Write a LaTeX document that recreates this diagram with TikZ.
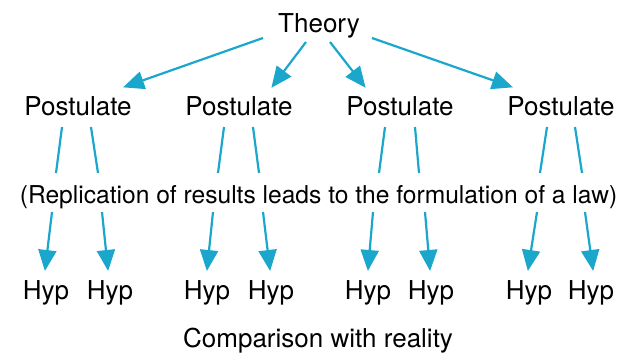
\documentclass[tikz,border=0pt]{standalone}
\usepackage{fontspec}
\setmainfont{TeX Gyre Heros}
\usetikzlibrary{arrows.meta}
\definecolor{lineblue}{HTML}{1BA6CC}
\tikzset{
  lbl/.style={anchor=base, inner sep=0pt, font=\fontsize{26}{30}\selectfont},
  conn/.style={draw=lineblue, line width=2.2pt},
  arr/.style={conn, -{Triangle[length=21pt,width=18pt]}, shorten >=-1pt}
}
\begin{document}
\begin{tikzpicture}[x=1pt,y=-1pt]
\useasboundingbox (0,0) rectangle (627,356);
% nodes
\node[lbl] (th) at (319,32) {Theory};
\node[lbl] (p1) at (78,115) {Postulate};
\node[lbl] (p2) at (239,115) {Postulate};
\node[lbl] (p3) at (400,115) {Postulate};
\node[lbl] (p4) at (561,115) {Postulate};
\node[lbl, font=\fontsize{24.6}{28}\selectfont] (rep) at (318.5,203) {(Replication of results leads to the formulation of a law)};
\node[lbl] (h1) at (46,299) {Hyp};
\node[lbl] (h2) at (110,299) {Hyp};
\node[lbl] (h3) at (207,299) {Hyp};
\node[lbl] (h4) at (271,299) {Hyp};
\node[lbl] (h5) at (368,299) {Hyp};
\node[lbl] (h6) at (431,299) {Hyp};
\node[lbl] (h7) at (529,299) {Hyp};
\node[lbl] (h8) at (591,299) {Hyp};
\node[lbl] (cmp) at (318,347) {Comparison with reality};
% theory to postulates
\draw[arr] ([shift={(-56,6)}]th.base) -- ([shift={(46,-28)}]p1.base);
\draw[arr] ([shift={(-13,10)}]th.base) -- ([shift={(33,-28)}]p2.base);
\draw[arr] ([shift={(11,10)}]th.base) -- ([shift={(-35,-28)}]p3.base);
\draw[arr] ([shift={(53,6)}]th.base) -- ([shift={(-49,-28)}]p4.base);
% postulates to replication line
\draw[conn] ([shift={(-16,12)}]p1.base) -- ([shift={(-262.5,-30)}]rep.base);
\draw[conn] ([shift={(13,12)}]p1.base) -- ([shift={(-220.5,-30)}]rep.base);
\draw[conn] ([shift={(-15,12)}]p2.base) -- ([shift={(-100.5,-30)}]rep.base);
\draw[conn] ([shift={(14,12)}]p2.base) -- ([shift={(-59.5,-30)}]rep.base);
\draw[conn] ([shift={(-15,12)}]p3.base) -- ([shift={(60.5,-30)}]rep.base);
\draw[conn] ([shift={(15,12)}]p3.base) -- ([shift={(100.5,-30)}]rep.base);
\draw[conn] ([shift={(-14,12)}]p4.base) -- ([shift={(221.5,-30)}]rep.base);
\draw[conn] ([shift={(14,12)}]p4.base) -- ([shift={(263.5,-30)}]rep.base);
% replication line to hypotheses
\draw[arr] ([shift={(-266.5,9)}]rep.base) -- ([shift={(-1,-29)}]h1.base);
\draw[arr] ([shift={(-216.5,9)}]rep.base) -- ([shift={(-2,-29)}]h2.base);
\draw[arr] ([shift={(-105.5,9)}]rep.base) -- ([shift={(0,-29)}]h3.base);
\draw[arr] ([shift={(-55.5,9)}]rep.base) -- ([shift={(-1,-29)}]h4.base);
\draw[arr] ([shift={(54.5,9)}]rep.base) -- ([shift={(0,-29)}]h5.base);
\draw[arr] ([shift={(106.5,9)}]rep.base) -- ([shift={(-1,-29)}]h6.base);
\draw[arr] ([shift={(218.5,9)}]rep.base) -- ([shift={(-1,-29)}]h7.base);
\draw[arr] ([shift={(266.5,9)}]rep.base) -- ([shift={(2,-29)}]h8.base);
\end{tikzpicture}
\end{document}
